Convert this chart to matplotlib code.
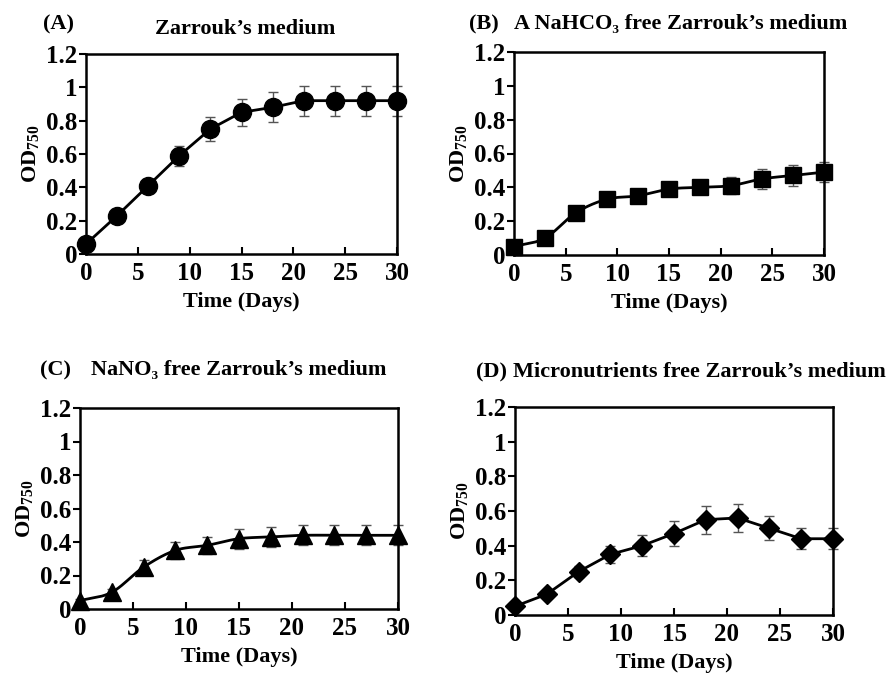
import numpy as np
import matplotlib
matplotlib.use("Agg")
import matplotlib.pyplot as plt

plt.rcParams['font.family'] = 'Liberation Serif'
plt.rcParams['font.weight'] = 'bold'
plt.rcParams['mathtext.fontset'] = 'custom'
plt.rcParams['mathtext.rm'] = 'Liberation Serif'
plt.rcParams['mathtext.bf'] = 'Liberation Serif:bold'

days = [0, 3, 6, 9, 12, 15, 18, 21, 24, 27, 30]

od_a = [0.06, 0.23, 0.41, 0.59, 0.75, 0.85, 0.88, 0.92, 0.92, 0.92, 0.92]
err_a = [0.01, 0.02, 0.02, 0.06, 0.07, 0.08, 0.09, 0.09, 0.09, 0.09, 0.09]

od_b = [0.05, 0.10, 0.25, 0.33, 0.35, 0.39, 0.40, 0.41, 0.45, 0.47, 0.49]
err_b = [0.02, 0.02, 0.02, 0.03, 0.03, 0.04, 0.04, 0.05, 0.06, 0.06, 0.06]

od_c = [0.05, 0.10, 0.25, 0.35, 0.38, 0.42, 0.43, 0.44, 0.44, 0.44, 0.44]
err_c = [0.01, 0.02, 0.04, 0.05, 0.05, 0.06, 0.06, 0.06, 0.06, 0.06, 0.06]

od_d = [0.05, 0.12, 0.25, 0.35, 0.40, 0.47, 0.55, 0.56, 0.50, 0.44, 0.44]
err_d = [0.01, 0.02, 0.03, 0.05, 0.06, 0.07, 0.08, 0.08, 0.07, 0.06, 0.06]

ytick_vals = [0, 0.2, 0.4, 0.6, 0.8, 1.0, 1.2]
ytick_labels = ['0', '0.2', '0.4', '0.6', '0.8', '1', '1.2']
xtick_vals = [0, 5, 10, 15, 20, 25, 30]

W, H = 892, 673


def smooth(x, y, n=20):
    # catmull-rom curve through the points, like the smoothed line option
    x = np.asarray(x, float)
    y = np.asarray(y, float)
    px = np.concatenate([[2 * x[0] - x[1]], x, [2 * x[-1] - x[-2]]])
    py = np.concatenate([[2 * y[0] - y[1]], y, [2 * y[-1] - y[-2]]])
    xs, ys = [], []
    t = np.linspace(0, 1, n)
    for i in range(1, len(px) - 2):
        for p, out in ((px, xs), (py, ys)):
            p0, p1, p2, p3 = p[i - 1], p[i], p[i + 1], p[i + 2]
            out.extend(0.5 * (2 * p1 + (-p0 + p2) * t + (2 * p0 - 5 * p1 + 4 * p2 - p3) * t ** 2
                              + (-p0 + 3 * p1 - 3 * p2 + p3) * t ** 3))
    return xs, ys


def make_axes(fig, left, right, top, bottom):
    return fig.add_axes([left / W, (H - bottom) / H, (right - left) / W, (bottom - top) / H])


def draw(ax, y, err, marker, ms, curved):
    ax.errorbar(days, y, yerr=err, fmt='none', ecolor='#555555', elinewidth=1,
                capsize=3.5, capthick=1, clip_on=False, zorder=2)
    if curved:
        sx, sy = smooth(days, y)
    else:
        sx, sy = days, y
    ax.plot(sx, sy, color='black', lw=2, clip_on=False, zorder=3)
    ax.plot(days, y, linestyle='none', marker=marker, ms=ms, color='black', clip_on=False, zorder=4)
    ax.set_xlim(0, 30)
    ax.set_ylim(0, 1.2)
    ax.set_xticks(xtick_vals)
    ax.set_yticks(ytick_vals)
    ax.set_yticklabels(ytick_labels)
    ax.tick_params(axis='x', direction='in', length=5, width=1.5, labelsize=18, pad=6)
    ax.tick_params(axis='y', direction='out', length=5, width=1.5, labelsize=18, pad=1)
    for s in ax.spines.values():
        s.set_linewidth(1.8)
    ax.set_xlabel('Time (Days)', fontsize=16, fontweight='bold', labelpad=5)
    ax.set_ylabel('OD$_{\\mathrm{750}}$', fontsize=16, fontweight='bold', labelpad=3)


fig = plt.figure(figsize=(W / 100, H / 100), dpi=100)

ax_a = make_axes(fig, 86, 397, 54, 254)
draw(ax_a, od_a, err_a, 'o', 13, False)
ax_b = make_axes(fig, 514, 824, 52, 255)
draw(ax_b, od_b, err_b, 's', 12, True)
ax_c = make_axes(fig, 80, 398, 408, 609)
draw(ax_c, od_c, err_c, '^', 13, True)
ax_d = make_axes(fig, 515, 833, 407, 615)
draw(ax_d, od_d, err_d, 'D', 10, False)

fs = 16
fig.text(43 / W, 1 - 24 / H, '(A)', fontsize=fs, va='center')
fig.text(245 / W, 1 - 29 / H, 'Zarrouk\u2019s medium', fontsize=fs, va='center', ha='center')
fig.text(469 / W, 1 - 24 / H, '(B)', fontsize=fs, va='center')
fig.text(514 / W, 1 - 24 / H, 'A NaHCO\u2083 free Zarrouk\u2019s medium', fontsize=fs, va='center')
fig.text(40 / W, 1 - 370 / H, '(C)', fontsize=fs, va='center')
fig.text(91 / W, 1 - 370 / H, 'NaNO\u2083 free Zarrouk\u2019s medium', fontsize=fs, va='center')
fig.text(476 / W, 1 - 372 / H, '(D)', fontsize=fs, va='center')
fig.text(513 / W, 1 - 372 / H, 'Micronutrients free Zarrouk\u2019s medium', fontsize=fs, va='center')

fig.savefig('out.png', dpi=100)
